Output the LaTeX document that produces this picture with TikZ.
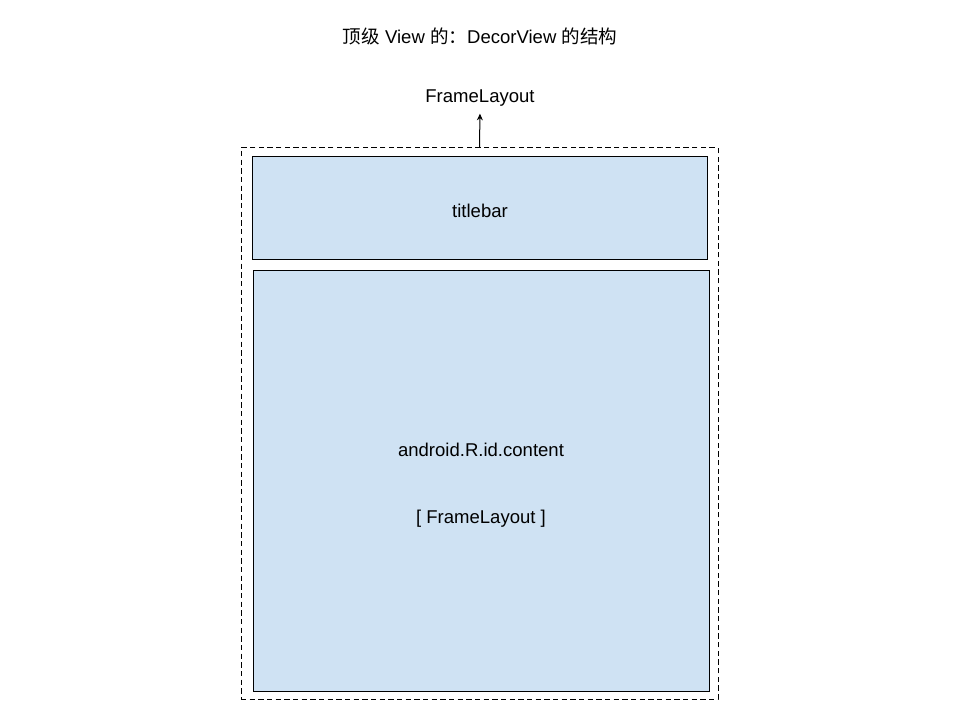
\documentclass[tikz,border=0pt]{standalone}
\usepackage{fontspec}
\setmainfont{Liberation Sans}
\newfontfamily\cjk{Noto Sans CJK SC}
\usetikzlibrary{fit,arrows.meta}
\definecolor{boxblue}{HTML}{CFE2F3}
\tikzset{
    viewbox/.style={draw, fill=boxblue, line width=0.75pt, inner sep=0pt},
    decorbox/.style={draw, line width=0.75pt, dash pattern=on 4pt off 2.5pt, inner sep=0pt},
    lbl/.style={font=\fontsize{13.9}{16}\selectfont}
}
\begin{document}
\begin{tikzpicture}[x=0.75pt,y=-0.75pt,font=\fontsize{13.9}{16}\selectfont]
                \useasboundingbox (0,0) rectangle (960,720);
                
                \node[lbl] (title) at (480,36) {{\cjk 顶级} View {\cjk 的：}DecorView {\cjk 的结构}};
                \node[lbl] (framelayout) at (480,98) {FrameLayout};
                
                % decor view and its children
                \node[decorbox, fit={(241,148) (718,699)}] (decor) {};
                \node[viewbox, fit={(252,157) (707,260)}] (titlebar) {};
                \node[viewbox, fit={(253,271) (709,691)}] (content) {};
                
                \node[lbl] (titlebarlbl) at (480,211) {titlebar};
                \node[lbl, align=center, font=\fontsize{13.9}{50}\selectfont] (contentlbl) at (481,485) {android.R.id.content\\{[} FrameLayout ]};
                
                \draw[line width=0.75pt, -{Stealth[length=5pt,width=4.5pt]}, shorten >=2pt] (decor.north) -- (framelayout.south);
            \end{tikzpicture}
\end{document}
